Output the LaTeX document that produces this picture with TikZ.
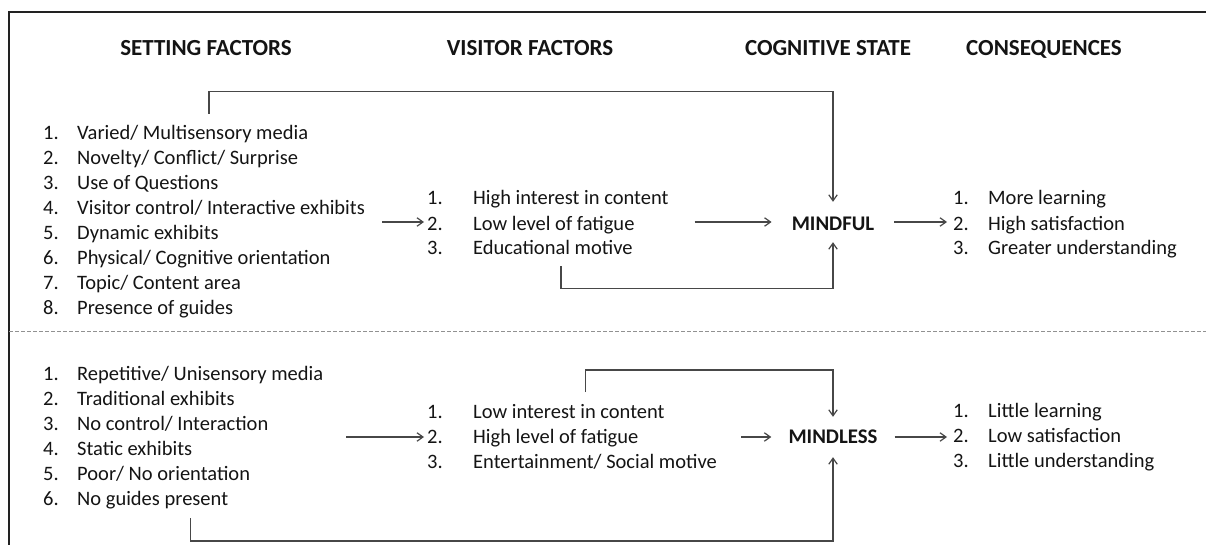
\documentclass[tikz,border=0pt]{standalone}
\usepackage{fontspec}
\setmainfont{Carlito}
\usetikzlibrary{arrows.meta}
\definecolor{txt}{HTML}{141414}
\definecolor{ln}{HTML}{474747}
\definecolor{frm}{HTML}{222222}
\begin{document}
\begin{tikzpicture}[x=1pt,y=-1pt,
  list/.style={anchor=base west, inner sep=0pt, text=txt, font=\fontsize{20.5}{25}\selectfont},
  hdr/.style={anchor=base, inner sep=0pt, text=txt, font=\fontsize{23}{27}\selectfont\bfseries},
  statebox/.style={anchor=base, inner ysep=0pt, text=txt, font=\fontsize{20.8}{25}\selectfont\bfseries},
  arr/.style={draw=ln, line width=1.2pt, -{Straight Barb[length=6pt,width=8.5pt]}},
  frame/.style={draw=frm, line width=1.3pt},
  sep/.style={draw=ln!60, line width=0.9pt, dash pattern=on 4pt off 2pt}]
\useasboundingbox (0,0) rectangle (1206,545);
% frame and separator
\draw[frame] (9,545) -- (9,12) -- (1206,12);
\draw[sep] (9,331.5) -- (1206,331.5);
% headers
\node[hdr] (h1) at (206,56) {SETTING FACTORS};
\node[hdr] (h2) at (530,56) {VISITOR FACTORS};
\node[hdr] (h3) at (828,56) {COGNITIVE STATE};
\node[hdr] (h4) at (1044,56) {CONSEQUENCES};
% upper lists
\node[list] (su) at (43,140) {\begin{tabular}[t]{@{}p{34pt}@{}l@{}}
1. & Varied/ Multisensory media\\
2. & Novelty/ Conflict/ Surprise\\
3. & Use of Questions\\
4. & Visitor control/ Interactive exhibits\\
5. & Dynamic exhibits\\
6. & Physical/ Cognitive orientation\\
7. & Topic/ Content area\\
8. & Presence of guides
\end{tabular}};
\node[list] (vu) at (427,205) {\begin{tabular}[t]{@{}p{46pt}@{}l@{}}
1. & High interest in content\\
2. & Low level of fatigue\\
3. & Educational motive
\end{tabular}};
\node[list] (cu) at (953,205) {\begin{tabular}[t]{@{}p{35pt}@{}l@{}}
1. & More learning\\
2. & High satisfaction\\
3. & Greater understanding
\end{tabular}};
\node[statebox, inner xsep=20pt, text height=28pt, text depth=12pt] (mindful) at (833,230) {MINDFUL};
% lower lists
\node[list] (sl) at (43,380) {\begin{tabular}[t]{@{}p{34pt}@{}l@{}}
1. & Repetitive/ Unisensory media\\
2. & Traditional exhibits\\
3. & No control/ Interaction\\
4. & Static exhibits\\
5. & Poor/ No orientation\\
6. & No guides present
\end{tabular}};
\node[list] (vl) at (427,418) {\begin{tabular}[t]{@{}p{46pt}@{}l@{}}
1. & Low interest in content\\
2. & High level of fatigue\\
3. & Entertainment/ Social motive
\end{tabular}};
\node[list] (cl) at (953,417) {\begin{tabular}[t]{@{}p{35pt}@{}l@{}}
1. & Little learning\\
2. & Low satisfaction\\
3. & Little understanding
\end{tabular}};
\node[statebox, inner xsep=17pt, text height=26pt, text depth=14pt] (mindless) at (833,443) {MINDLESS};
% main flow arrows
\draw[arr, shorten <=17pt, shorten >=3pt] (su.east |- mindful.west) -- (vu.west |- mindful.west);
\draw[arr, shorten <=26pt] (vu.east |- mindful.west) -- (mindful.west);
\draw[arr, shorten >=6pt] (mindful.east) -- (cu.west |- mindful.east);
\draw[arr, shorten <=23pt, shorten >=3pt] (sl.east |- mindless.west) -- (vl.west |- mindless.west);
\draw[arr, shorten <=24pt] (vl.east |- mindless.west) -- (mindless.west);
\draw[arr, shorten >=6pt] (mindless.east) -- (cl.west |- mindless.east);
% feedback connectors
\coordinate (f1a) at (209,114); \coordinate (f1b) at (209,91.5);
\coordinate (f2a) at (561,266); \coordinate (f2b) at (561,288.5);
\coordinate (f3a) at (585.5,392); \coordinate (f3b) at (585.5,370);
\coordinate (f4a) at (190.5,518); \coordinate (f4b) at (190.5,541);
\draw[arr] (f1a) -- (f1b) -| (mindful.north);
\draw[arr] (f2a) -- (f2b) -| (mindful.south);
\draw[arr] (f3a) -- (f3b) -| (mindless.north);
\draw[arr] (f4a) -- (f4b) -| (mindless.south);
\end{tikzpicture}
\end{document}
